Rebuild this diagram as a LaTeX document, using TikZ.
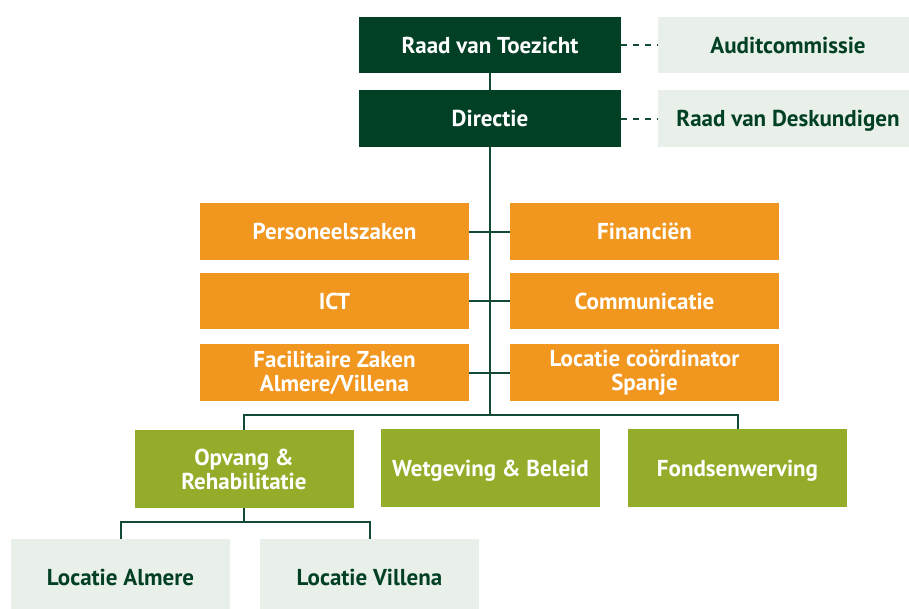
\documentclass[tikz,border=0pt]{standalone}
\usepackage{fontspec}
\setmainfont{PT Sans}
\definecolor{dkgreen}{RGB}{2,64,38}
\definecolor{linegreen}{RGB}{18,74,52}
\definecolor{orangebox}{RGB}{241,150,30}
\definecolor{olivebox}{RGB}{147,173,42}
\definecolor{palebox}{RGB}{233,240,233}
\tikzset{
  orgbox/.style={rectangle, inner sep=0pt, outer sep=0pt, align=center,
    font=\fontsize{23}{24}\selectfont\bfseries},
  oneline/.style={text depth=0pt},
  darkbox/.style={orgbox, fill=dkgreen, text=white},
  lightbox/.style={orgbox, fill=palebox, text=dkgreen},
  orbox/.style={orgbox, fill=orangebox, text=white},
  olbox/.style={orgbox, fill=olivebox, text=white},
  link/.style={draw=linegreen, line width=2pt},
  dashlink/.style={draw=linegreen, line width=2pt, dash pattern=on 6pt off 6pt}
}
\begin{document}
\begin{tikzpicture}[x=1pt,y=-1pt]
\useasboundingbox[fill=white] (0,0) rectangle (909,608);
% top
\node[darkbox, oneline, minimum width=262pt, minimum height=56pt] (rvt) at (490,45) {Raad van Toezicht};
\node[darkbox, oneline, minimum width=262pt, minimum height=57pt] (dir) at (490,118.5) {Directie};
\node[lightbox, oneline, minimum width=260pt, minimum height=56pt] (aud) at (788,45) {Auditcommissie};
\node[lightbox, oneline, minimum width=260pt, minimum height=57pt] (rvd) at (788,118.5) {Raad van Deskundigen};
% staff
\node[orbox, oneline, minimum width=269pt, minimum height=57pt] (pz) at (334.5,231.5) {Personeelszaken};
\node[orbox, oneline, minimum width=269pt, minimum height=57pt] (fin) at (644.5,231.5) {Financiën};
\node[orbox, oneline, minimum width=269pt, minimum height=56pt] (ict) at (334.5,301) {ICT};
\node[orbox, oneline, minimum width=269pt, minimum height=56pt] (com) at (644.5,301) {Communicatie};
\node[orbox, minimum width=269pt, minimum height=57pt] (fac) at (334.5,372.5) {Facilitaire Zaken\\Almere/Villena};
\node[orbox, minimum width=269pt, minimum height=57pt] (loc) at (644.5,372.5) {Locatie coördinator\\Spanje};
% departments
\node[olbox, minimum width=219pt, minimum height=78pt] (opv) at (244,469) {Opvang \&\\Rehabilitatie};
\node[olbox, oneline, minimum width=219pt, minimum height=78pt] (wet) at (490.5,468) {Wetgeving \& Beleid};
\node[olbox, oneline, minimum width=219pt, minimum height=78pt] (fon) at (737.5,468) {Fondsenwerving};
% locations
\node[lightbox, oneline, minimum width=219pt, minimum height=78pt] (alm) at (120.5,577.5) {Locatie Almere};
\node[lightbox, oneline, minimum width=219pt, minimum height=78pt] (vil) at (369.5,577.5) {Locatie Villena};
% junctions
\coordinate (j1) at (490,415);
\coordinate (j2) at (244,522);
% connectors
\draw[link] (rvt.south) -- (dir.north);
\draw[link] (dir.south) -- (j1);
\draw[link] (pz.east) -- (fin.west);
\draw[link] (ict.east) -- (com.west);
\draw[link] (fac.east) -- (loc.west);
\draw[link] (opv.north) -- (opv.north |- j1) -- (fon.north |- j1) -- (fon.north);
\draw[link] (opv.south) -- (j2);
\draw[link] (alm.north) -- (alm.north |- j2) -- (vil.north |- j2) -- (vil.north);
\draw[dashlink] (rvt.east) -- (aud.west);
\draw[dashlink] (dir.east) -- (rvd.west);
\end{tikzpicture}
\end{document}
